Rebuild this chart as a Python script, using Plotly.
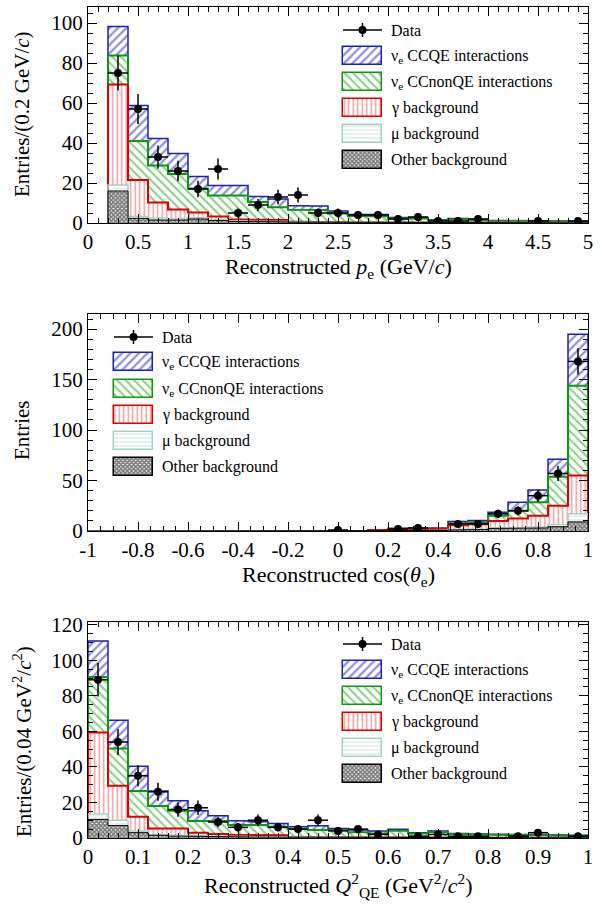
import numpy as np
import plotly.graph_objects as go

W, H = 602, 905
FONT = "Liberation Serif"

# ---------------- Panel 1 : reconstructed p_e (bins of 0.2 GeV/c, 0.2-5.0) ----------------
pe_centers = [0.3, 0.5, 0.7, 0.9, 1.1, 1.3, 1.5, 1.7, 1.9, 2.1, 2.3, 2.5,
              2.7, 2.9, 3.1, 3.3, 3.5, 3.7, 3.9, 4.1, 4.3, 4.5, 4.7, 4.9]
pe_other = [16.0, 2.3, 1.5, 1.5, 2.0, 1.2, 0.8, 0.6, 0.5, 0.4, 0.3, 0.2,
            0.2, 0.1, 0.1, 0.1, 0.1, 0.1, 0.1, 0.1, 0.1, 0.1, 0.1, 0.1]
pe_mu = [3.0, 0.9, 1.0, 0.7, 0.6, 0.4, 0.2, 0.2, 0.2, 0.1, 0.1, 0.1,
         0.1, 0.1, 0.1, 0.1, 0.1, 0.05, 0.05, 0.05, 0.05, 0.05, 0.05, 0.05]
pe_gamma = [50.3, 18.3, 7.8, 4.6, 2.6, 1.7, 0.8, 0.8, 0.8, 0.1, 0.1, 0.1,
            0.0, 0.1, 0.05, 0.05, 0.0, 0.05, 0.05, 0.05, 0.05, 0.05, 0.05, 0.05]
pe_nonqe = [14.4, 19.5, 18.4, 17.7, 12.1, 10.4, 11.9, 8.9, 6.4, 6.0, 6.0, 4.3,
            3.2, 3.1, 2.05, 1.95, 1.0, 1.7, 1.2, 0.8, 0.8, 0.7, 0.6, 0.5]
pe_ccqe = [14.5, 17.8, 13.6, 10.2, 5.9, 5.1, 5.0, 2.8, 4.1, 2.0, 2.0, 1.3,
           0.8, 0.9, 0.5, 0.5, 0.4, 0.4, 0.4, 0.3, 0.2, 0.2, 0.2, 0.2]
pe_data = [75, 57, 33, 26, 17, 27, 5, 9, 13, 14, 5, 5,
           4, 4, 2, 3, 1, 1, 2, None, None, 1, None, 1]
pe_err = [8.7, 7.5, 5.7, 5.1, 4.1, 5.2, 2.2, 3.0, 3.6, 3.7, 2.2, 2.2,
          2.0, 2.0, 1.4, 1.7, 1.0, 1.0, 1.4, None, None, 1.0, None, 1.0]
pe_binw = 0.2

# ---------------- Panel 2 : reconstructed cos(theta_e) (bins of 0.08, -1..1) ----------------
ct_centers = [-0.96, -0.88, -0.80, -0.72, -0.64, -0.56, -0.48, -0.40, -0.32, -0.24,
              -0.16, -0.08, 0.00, 0.08, 0.16, 0.24, 0.32, 0.40, 0.48, 0.56,
              0.64, 0.72, 0.80, 0.88, 0.96]
ct_other = [0] * 14 + [0.2, 0.3, 0.4, 0.5, 1.0, 1.5, 2.5, 2.5, 3.0, 4.3, 9.0]
ct_mu = [0] * 14 + [0.1, 0.1, 0.1, 0.1, 0.5, 0.5, 0.5, 0.7, 1.0, 2.2, 8.0]
ct_gamma = [0] * 14 + [0.7, 1.6, 2.1, 1.9, 4.1, 4.6, 7.0, 9.3, 11.0, 18.5, 38.0]
ct_nonqe = [0] * 14 + [0.1, 0.2, 0.3, 0.3, 2.0, 2.0, 5.0, 7.5, 13.4, 28.7, 89.0]
ct_ccqe = [0] * 14 + [0.1, 0.2, 0.2, 0.2, 1.7, 1.7, 3.5, 8.4, 12.2, 17.3, 51.0]
ct_data = [None] * 12 + [1, None, None, 2, 3, None, 7, 7, 17, 20, 35, 57, 168]
ct_err = [None] * 12 + [1.0, None, None, 1.4, 1.7, None, 2.6, 2.6, 4.1, 4.5, 5.9, 7.5, 13.0]
ct_binw = 0.08

# ---------------- Panel 3 : reconstructed Q2_QE (bins of 0.04 GeV2/c2, 0..1) ----------------
q2_centers = [0.02, 0.06, 0.10, 0.14, 0.18, 0.22, 0.26, 0.30, 0.34, 0.38, 0.42, 0.46,
              0.50, 0.54, 0.58, 0.62, 0.66, 0.70, 0.74, 0.78, 0.82, 0.86, 0.90, 0.94, 0.98]
q2_other = [10.5, 7.0, 3.0, 1.5, 1.0, 1.0, 0.8, 0.6, 0.5, 0.4, 0.3, 0.3,
            0.3, 0.2, 0.2, 0.2, 0.2, 0.2, 0.1, 0.1, 0.1, 0.1, 0.1, 0.1, 0.1]
q2_mu = [3.0, 3.0, 1.0, 0.5, 0.5, 0.3, 0.2, 0.2, 0.2, 0.2, 0.1, 0.1,
         0.1, 0.1, 0.1, 0.1, 0.0, 0.0, 0.1, 0.1, 0.1, 0.0, 0.0, 0.0, 0.0]
q2_gamma = [45.8, 19.4, 8.0, 3.4, 3.9, 1.7, 1.3, 1.0, 0.9, 0.9, 0.1, 0.1,
            0.1, 0.1, 0.1, 0.0, 0.1, 0.1, 0.1, 0.1, 0.0, 0.1, 0.1, 0.1, 0.0]
q2_nonqe = [31.3, 21.0, 14.5, 12.6, 9.9, 6.6, 7.3, 5.5, 5.7, 4.8, 4.5, 4.0,
            4.0, 2.8, 2.1, 3.8, 2.2, 3.1, 2.0, 1.7, 1.6, 1.3, 1.3, 1.1, 1.2]
q2_ccqe = [20.2, 15.9, 13.9, 8.5, 5.7, 5.7, 2.9, 2.4, 1.9, 1.9, 1.3, 2.4,
           0.9, 1.3, 1.4, 0.8, 0.5, 0.6, 0.3, 0.3, 0.3, 0.5, 0.4, 0.4, 0.3]
q2_data = [89, 54, 35, 26, 16, 17, 9, 6, 10, 6, 5, 10,
           4, 5, 2, None, 1, 2, 1, 1, None, 1, 3, None, 1]
q2_err = [9.4, 7.3, 5.9, 5.1, 4.0, 4.1, 3.0, 2.4, 3.2, 2.4, 2.2, 3.2,
          2.0, 2.2, 1.4, None, 1.0, 1.4, 1.0, 1.0, None, 1.0, 1.7, None, 1.0]
q2_binw = 0.04

legend_labels = ["Data", "ν<sub>e</sub> CCQE interactions", "ν<sub>e</sub> CCnonQE interactions",
                 "γ background", "μ background", "Other background"]

# ---------------- styles ----------------
STY = {
    "ccqe":  dict(fg="#1f1fcc", line="#1e1eb8", lw=1.5, shape="/", size=6, sol=0.38),
    "nonqe": dict(fg="#14a014", line="#0c9a0c", lw=2.0, shape="\\", size=6, sol=0.36),
    "gamma": dict(fg="#e83030", line="#e00000", lw=2.0, shape="|", size=4.5, sol=0.32),
    "mu":    dict(fg="#a6d2c6", line="#a6d2c6", lw=1.5, shape="-", size=4, sol=0.3),
    "other": dict(fg="#000000", line="#000000", lw=1.0, shape="x", size=3, sol=0.8),
}
ORDER = ["other", "mu", "gamma", "nonqe", "ccqe"]

X0, X1 = 88, 588
PANELS = [(7, 223), (314, 531), (622, 838)]

fig = go.Figure()


def add_panel(idx, centers, comps, data, err, binw):
    xa = "x" if idx == 1 else f"x{idx}"
    ya = "y" if idx == 1 else f"y{idx}"
    centers = np.array(centers, dtype=float)
    base = np.zeros(len(centers))
    cums = {}
    for key in ORDER:
        vals = np.array(comps[key], dtype=float)
        s = STY[key]
        fig.add_trace(go.Bar(
            x=centers, y=vals, base=base.copy(), width=binw, xaxis=xa, yaxis=ya,
            marker=dict(color="white", line=dict(width=0),
                        pattern=dict(shape=s["shape"], fgcolor=s["fg"], bgcolor="white",
                                     size=s["size"], solidity=s["sol"], fillmode="overlay")),
            showlegend=False, hoverinfo="skip"))
        base = base + vals
        cums[key] = base.copy()
    edges = np.concatenate([centers - binw / 2, [centers[-1] + binw / 2]])
    for key in reversed(ORDER):
        c = cums[key]
        xs, ys = [edges[0]], [0.0]
        for i in range(len(c)):
            xs += [edges[i], edges[i + 1]]
            ys += [c[i], c[i]]
        xs.append(edges[-1]); ys.append(0.0)
        s = STY[key]
        fig.add_trace(go.Scatter(x=xs, y=ys, mode="lines", xaxis=xa, yaxis=ya,
                                 line=dict(color=s["line"], width=s["lw"]),
                                 showlegend=False, hoverinfo="skip"))
    fig.add_trace(go.Scatter(
        x=centers, y=data, mode="markers", xaxis=xa, yaxis=ya,
        marker=dict(color="black", size=8),
        error_y=dict(type="data", array=err, width=0, thickness=1.5, color="black"),
        error_x=dict(type="data", array=[binw / 2] * len(centers), width=0, thickness=1.5, color="black"),
        showlegend=False, hoverinfo="skip"))


add_panel(1, pe_centers, dict(other=pe_other, mu=pe_mu, gamma=pe_gamma, nonqe=pe_nonqe, ccqe=pe_ccqe),
          pe_data, pe_err, pe_binw)
add_panel(2, ct_centers, dict(other=ct_other, mu=ct_mu, gamma=ct_gamma, nonqe=ct_nonqe, ccqe=ct_ccqe),
          ct_data, ct_err, ct_binw)
add_panel(3, q2_centers, dict(other=q2_other, mu=q2_mu, gamma=q2_gamma, nonqe=q2_nonqe, ccqe=q2_ccqe),
          q2_data, q2_err, q2_binw)

# ---------------- legends (drawn on a page-pixel overlay axis) ----------------
LEG = [  # (box left, text x, row centres)
    (343, 389, [30, 56, 82, 108, 134, 160]),
    (114, 160, [337, 362, 389, 415, 441, 467]),
    (343, 389, [644, 670, 696, 722, 748, 774]),
]
BOXW, BOXH = 39, 18
annotations = []
for (bx, tx, rows) in LEG:
    fig.add_trace(go.Scatter(
        x=[bx + BOXW / 2], y=[rows[0]], mode="markers", xaxis="x4", yaxis="y4",
        marker=dict(color="black", size=8),
        error_x=dict(type="data", array=[BOXW / 2], width=0, thickness=1.5, color="black"),
        error_y=dict(type="data", array=[7], width=0, thickness=1.5, color="black"),
        showlegend=False, hoverinfo="skip"))
    for key, ry in zip(["ccqe", "nonqe", "gamma", "mu", "other"], rows[1:]):
        s = STY[key]
        fig.add_trace(go.Bar(
            x=[bx + BOXW / 2], y=[BOXH], base=[ry - BOXH / 2], width=BOXW, xaxis="x4", yaxis="y4",
            marker=dict(color="white", line=dict(color=s["line"], width=1.5),
                        pattern=dict(shape=s["shape"], fgcolor=s["fg"], bgcolor="white",
                                     size=s["size"], solidity=s["sol"], fillmode="overlay")),
            showlegend=False, hoverinfo="skip"))
    for lab, ry in zip(legend_labels, rows):
        annotations.append(dict(x=tx, y=ry, xref="x4", yref="y4", text=lab, showarrow=False,
                                xanchor="left", yanchor="middle",
                                font=dict(family=FONT, size=16, color="black")))

# axis titles
xtitles = [("Reconstructed <i>p</i><sub>e</sub> (GeV/<i>c</i>)", 268),
           ("Reconstructed cos(<i>θ</i><sub>e</sub>)", 576),
           ("Reconstructed <i>Q</i><sup>2</sup><sub>QE</sub> (GeV<sup>2</sup>/<i>c</i><sup>2</sup>)", 885)]
for t, yy in xtitles:
    annotations.append(dict(x=(X0 + X1) / 2, y=yy, xref="x4", yref="y4", text=t, showarrow=False,
                            xanchor="center", yanchor="middle",
                            font=dict(family=FONT, size=22, color="black")))
ytitles = [("Entries/(0.2 GeV/<i>c</i>)", 114), ("Entries", 431),
           ("Entries/(0.04 GeV<sup>2</sup>/<i>c</i><sup>2</sup>)", 742)]
for t, yy in ytitles:
    annotations.append(dict(x=22, y=yy, xref="x4", yref="y4", text=t, showarrow=False, textangle=-90,
                            xanchor="center", yanchor="middle",
                            font=dict(family=FONT, size=21, color="black")))

# ---------------- axes ----------------
def base_axis():
    return dict(showline=True, linecolor="black", linewidth=1, mirror="allticks",
                ticks="inside", ticklen=9, tickwidth=1, tickcolor="black",
                showgrid=False, zeroline=False, fixedrange=True, automargin=False,
                tickfont=dict(family=FONT, size=21, color="black"), ticklabelstandoff=0)


xdom = [X0 / W, X1 / W]
layout_axes = {}
xranges = [[0, 5], [-1, 1], [0, 1]]
yranges = [[0, 108], [0, 215], [0, 121.5]]
xmajor = [0.5, 0.2, 0.1]
xminor = [0.1, 0.05, 0.02]
ymajor = [20, 50, 20]
yminor = [5, 10, 5]
for i, (t, b) in enumerate(PANELS):
    n = i + 1
    xk = "xaxis" if n == 1 else f"xaxis{n}"
    yk = "yaxis" if n == 1 else f"yaxis{n}"
    xa = base_axis()
    xa.update(domain=xdom, range=xranges[i], anchor="y" if n == 1 else f"y{n}",
              minor=dict(ticks="inside", ticklen=5, tickwidth=1, tickcolor="black",
                         tickmode="linear", tick0=xranges[i][0], dtick=xminor[i], showgrid=False))
    if n == 2:
        vals = [-1, -0.8, -0.6, -0.4, -0.2, 0, 0.2, 0.4, 0.6, 0.8, 1]
        xa.update(tickmode="array", tickvals=vals,
                  ticktext=["-1", "-0.8", "-0.6", "-0.4", "-0.2", "0", "0.2", "0.4", "0.6", "0.8", "1"])
    else:
        xa.update(tickmode="linear", tick0=0, dtick=xmajor[i])
    ya = base_axis()
    ya.update(domain=[1 - b / H, 1 - t / H], range=yranges[i], anchor="x" if n == 1 else f"x{n}",
              tickmode="linear", tick0=0, dtick=ymajor[i], ticklabelstandoff=0,
              minor=dict(ticks="inside", ticklen=5, tickwidth=1, tickcolor="black",
                         tickmode="linear", tick0=0, dtick=yminor[i], showgrid=False))
    layout_axes[xk] = xa
    layout_axes[yk] = ya

layout_axes["xaxis4"] = dict(domain=[0, 1], range=[0, W], visible=False, anchor="y4",
                             fixedrange=True, automargin=False)
layout_axes["yaxis4"] = dict(domain=[0, 1], range=[H, 0], visible=False, anchor="x4",
                             fixedrange=True, automargin=False)

fig.update_layout(
    width=W, height=H, autosize=False,
    margin=dict(l=0, r=0, t=0, b=0, autoexpand=False),
    paper_bgcolor="white", plot_bgcolor="rgba(0,0,0,0)",
    barmode="overlay", bargap=0, showlegend=False,
    annotations=annotations,
    **layout_axes,
)

fig.write_html("out.html", config={"displayModeBar": False, "responsive": False},
               post_script="document.body.style.margin='0';document.body.style.overflow='hidden';")
